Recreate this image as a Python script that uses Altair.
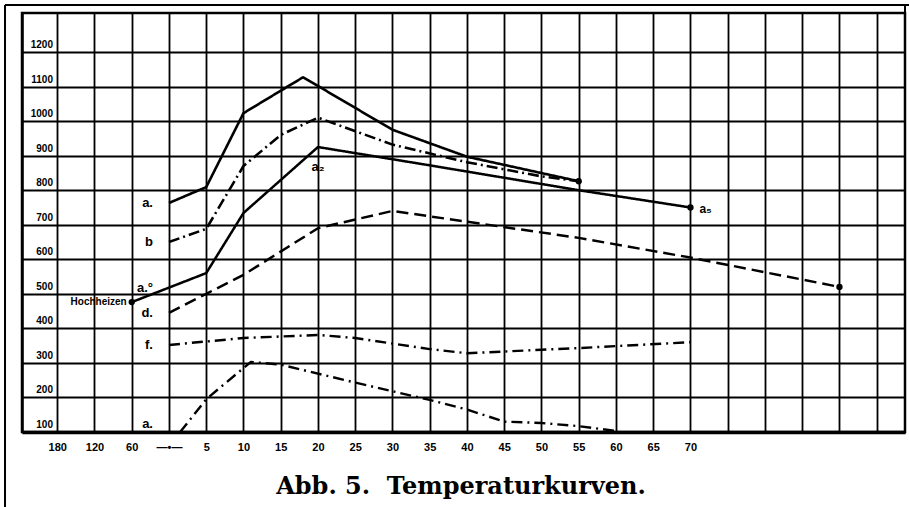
import altair as alt
import pandas as pd

# Temperature curves (minutes on the right of zero, pre-heating on the left)
a_x = [0, 5, 10, 18, 30, 40, 55]
a_y = [763, 809, 1023, 1127, 975, 897, 826]

b_x = [0, 5, 10, 15, 20, 30, 40, 50, 55]
b_y = [650, 688, 870, 960, 1010, 932, 881, 840, 826]

c_x = [-5, 0, 5, 10, 20, 35, 55, 70]
c_y = [476, 518, 560, 734, 925, 872, 800, 750]

d_x = [0, 5, 10, 20, 30, 55, 70, 90]
d_y = [445, 500, 555, 690, 740, 662, 605, 520]

f_x = [0, 10, 20, 25, 35, 40, 50, 55, 70]
f_y = [352, 372, 381, 372, 340, 328, 338, 343, 360]

e_x = [1.5, 5, 11, 15, 25, 35, 40, 45, 50, 55, 60]
e_y = [100, 195, 303, 295, 243, 193, 165, 130, 126, 117, 103]

series_names = ["a", "b", "c", "d", "f", "e"]
series_text = ["a.", "b", "a.°", "d.", "f.", "a."]
series_dash = [[1, 0], [11, 4, 2, 4], [1, 0], [12, 6], [11, 5, 2, 5], [11, 5, 2, 5]]
series_width = [2.6, 2.4, 2.6, 3.0, 2.2, 2.2]

# Axis ticks
x_tick_values = [-15, -10, -5, 0, 5, 10, 15, 20, 25, 30, 35, 40, 45, 50, 55, 60, 65, 70]
x_tick_labels = ["180", "120", "60", "—•—", "5", "10", "15", "20", "25", "30", "35",
                 "40", "45", "50", "55", "60", "65", "70"]
x_grid_values = list(range(-15, 100, 5))
y_tick_values = [100, 200, 300, 400, 500, 600, 700, 800, 900, 1000, 1100, 1200]
y_tick_labels = ["100", "200", "300", "400", "500", "600", "700", "800", "900",
                 "1000", "1100", "1200"]

# Marked points: end points and the pre-heating start
dot_x = [55, 70, 90, -5]
dot_y = [826, 750, 520, 476]

# In-plot annotations along curve "a.°"
note_text = ["Hochheizen", "a₂", "a₅"]
note_x = [-5, 20, 70]
note_y = [476, 925, 750]

rows = []
for name, xs, ys in zip(series_names, [a_x, b_x, c_x, d_x, f_x, e_x],
                        [a_y, b_y, c_y, d_y, f_y, e_y]):
    for i, (xv, yv) in enumerate(zip(xs, ys)):
        rows.append({"series": name, "t": xv, "T": yv, "i": i})
lines_df = pd.DataFrame(rows)

label_df = pd.DataFrame({
    "txt": series_text,
    "t": [0] * len(series_names),
    "T": [a_y[0], b_y[0], c_y[1], d_y[0], f_y[0], e_y[0] + 22],
})
dots_df = pd.DataFrame({"t": dot_x, "T": dot_y})
ytick_df = pd.DataFrame({"T": y_tick_values, "lab": y_tick_labels})

label_expr = ""
for v, lab in zip(x_tick_values, x_tick_labels):
    label_expr += f"datum.value == {v} ? '{lab}' : "
label_expr += "''"

x_scale = alt.Scale(domain=[-19.73, 98.8], nice=False, zero=False)
y_scale = alt.Scale(domain=[100, 1313], nice=False, zero=False)

FONT = "Liberation Sans"

x_axis = alt.Axis(values=x_grid_values, labelExpr=label_expr, title=None,
                  grid=True, gridColor="black", gridWidth=1.8, gridOpacity=1,
                  ticks=False, domain=True, domainColor="black", domainWidth=3.5,
                  labelFont=FONT, labelFontWeight="bold", labelFontSize=11,
                  labelColor="black", labelPadding=9, labelFlush=False,
                  labelOverlap=False)
y_axis = alt.Axis(values=y_tick_values, labels=False, ticks=False, title=None,
                  grid=True, gridColor="black", gridWidth=1.8, gridOpacity=1,
                  domain=True, domainColor="black", domainWidth=2.5)


def X(field="t:Q"):
    return alt.X(field, scale=x_scale, axis=x_axis)


def Y(field="T:Q"):
    return alt.Y(field, scale=y_scale, axis=y_axis)


curves = alt.Chart(lines_df).mark_line(color="black", strokeCap="butt", strokeJoin="round").encode(
    x=X(), y=Y(),
    detail="series:N",
    order="i:Q",
    strokeDash=alt.StrokeDash("series:N", scale=alt.Scale(domain=series_names, range=series_dash),
                              legend=None),
    strokeWidth=alt.StrokeWidth("series:N", scale=alt.Scale(domain=series_names, range=series_width),
                                legend=None),
)

dots = alt.Chart(dots_df).mark_circle(color="black", opacity=1, size=40).encode(x=X(), y=Y())

curve_labels = alt.Chart(label_df).mark_text(
    font=FONT, fontWeight="bold", fontSize=13, align="right", baseline="middle",
    dx=-16, color="black"
).encode(x=X(), y=Y(), text="txt:N")

note_df = pd.DataFrame({"txt": note_text, "t": note_x, "T": note_y})
hoch = alt.Chart(note_df.iloc[[0]]).mark_text(
    font=FONT, fontSize=10, fontWeight="bold", align="right", baseline="middle",
    dx=-5, color="black"
).encode(x=X(), y=Y(), text="txt:N")
a2 = alt.Chart(note_df.iloc[[1]]).mark_text(
    font=FONT, fontSize=13, fontWeight="bold", align="center", baseline="middle",
    dy=20, color="black"
).encode(x=X(), y=Y(), text="txt:N")
a5 = alt.Chart(note_df.iloc[[2]]).mark_text(
    font=FONT, fontSize=12, fontWeight="bold", align="left", baseline="middle",
    dx=9, dy=2, color="black"
).encode(x=X(), y=Y(), text="txt:N")

y_labels = alt.Chart(ytick_df).mark_text(
    font=FONT, fontSize=10, fontWeight="bold", align="right", baseline="bottom",
    dy=-2, color="black"
).encode(x=alt.value(31), y=Y(), text="lab:N")

# Page frame lines around the figure
frame_top = alt.Chart(pd.DataFrame({"k": [0]})).mark_rule(color="black", strokeWidth=2).encode(
    x=alt.value(-17), x2=alt.value(887), y=alt.value(-8))
frame_left = alt.Chart(pd.DataFrame({"k": [0]})).mark_rule(color="black", strokeWidth=2).encode(
    x=alt.value(-17), y=alt.value(-8), y2=alt.value(494))
frame_right = alt.Chart(pd.DataFrame({"k": [0]})).mark_rule(color="black", strokeWidth=2).encode(
    x=alt.value(883), y=alt.value(-8), y2=alt.value(419))

caption = alt.Chart(pd.DataFrame({"txt": ["Abb. 5.\u00a0\u00a0Temperaturkurven."]})).mark_text(
    font="DejaVu Serif", fontSize=24, fontWeight="bold", align="center", baseline="middle",
    color="black"
).encode(x=alt.value(439), y=alt.value(474), text="txt:N")

chart = alt.layer(
    curves, dots, curve_labels, hoch, a2, a5,
    y_labels, frame_top, frame_left, frame_right, caption
).properties(
    width=883, height=419,
    autosize=alt.AutoSizeParams(type="none"),
    padding={"left": 22, "top": 13, "right": 4, "bottom": 75},
    background="white",
).configure_view(stroke="black", strokeWidth=2.5)

chart.save("out.html", embed_options={"renderer": "svg", "actions": False})
